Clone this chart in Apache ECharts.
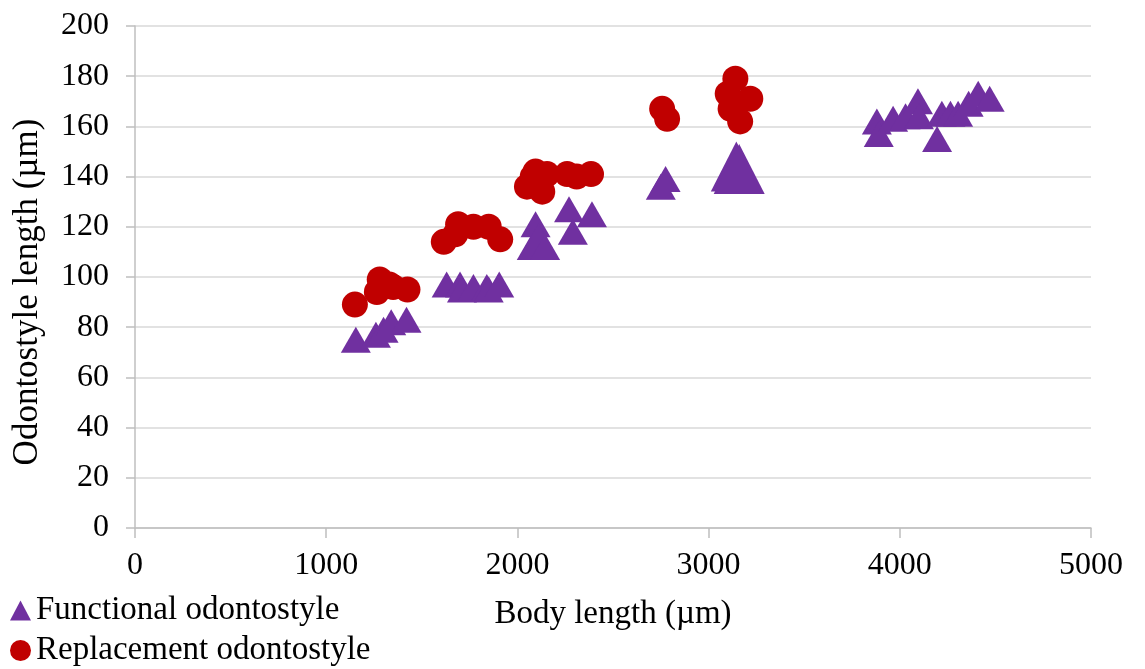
<!DOCTYPE html>
<html>
<head>
<meta charset="utf-8">
<script src="https://cdn.jsdelivr.net/npm/echarts@6/dist/echarts.min.js"></script>
<style>
html,body{margin:0;padding:0;background:#fff;}
#chart{width:1145px;height:669px;}
</style>
</head>
<body>
<div id="chart"></div>
<script>
// Data (body length µm, odontostyle length µm)
const functionalName = 'Functional odontostyle';
const replacementName = 'Replacement odontostyle';
const functional = [
  [1155,75],[1260,77],[1300,79],[1340,82],[1420,83],
  [1630,97],[1700,97],[1710,95],[1770,96],[1840,96],[1850,95],[1905,97],
  [2075,112],[2095,121],[2110,116],[2145,112],[2270,127],[2290,118],[2390,125],
  [2750,136],[2775,139],
  [3145,144],[3160,143],
  [3880,162],[3890,157],[3965,163],[4030,164],[4095,170],[4100,164],[4195,155],
  [4220,165],[4265,165],[4305,165],[4360,169],[4410,173],[4470,171]
];
const replacement = [
  [1150,89],[1265,94],[1280,99],[1330,97],[1350,96],[1425,95],
  [1615,114],[1675,117],[1690,121],[1770,120],[1850,120],[1910,115],
  [2050,136],[2080,140],[2095,142],[2130,134],[2155,141],[2260,141],[2310,140],[2385,141],
  [2757,167],[2783,163],
  [3100,173],[3115,167],[3140,179],[3165,162],[3218,171]
];
const xTicks = {min:0, max:5000, interval:1000};
const yTicks = {min:0, max:200, interval:20};
const xTitle = 'Body length (µm)';
const yTitle = 'Odontostyle length (µm)';

// indices of overlapping points drawn with a larger marker (style only)
const bigFunctional = [21, 22];

const FONT = '"Liberation Serif", "Times New Roman", serif';
const TXT = {fontFamily:FONT, fontSize:33, color:'#000'};
const chart = echarts.init(document.getElementById('chart'));
chart.setOption({
  animation:false,
  backgroundColor:'#fff',
  grid:{left:135, right:54, top:26, bottom:141, containLabel:false},
  legend:[
    {
      orient:'vertical', left:10, top:594, itemWidth:21, itemHeight:20, itemGap:0, padding:0,
      textStyle:TXT, selectedMode:false,
      data:[{name:functionalName, icon:'triangle'}]
    },
    {
      orient:'vertical', left:10, top:634, itemWidth:21, itemHeight:21, itemGap:0, padding:0,
      textStyle:TXT, selectedMode:false,
      data:[{name:replacementName, icon:'circle'}]
    }
  ],
  xAxis:{
    type:'value', min:xTicks.min, max:xTicks.max, interval:xTicks.interval,
    name:xTitle, nameLocation:'middle', nameGap:70,
    nameTextStyle:TXT,
    axisLine:{show:true, lineStyle:{color:'#bfbfbf', width:1.5}},
    axisTick:{show:true, length:10, lineStyle:{color:'#bfbfbf', width:1.5}},
    axisLabel:{fontFamily:FONT, fontSize:32, color:'#000', margin:22, formatter:function(v){return String(v);}},
    splitLine:{show:false}
  },
  yAxis:{
    type:'value', min:yTicks.min, max:yTicks.max, interval:yTicks.interval,
    name:yTitle, nameLocation:'middle', nameGap:90,
    nameTextStyle:{fontFamily:FONT, fontSize:35, color:'#000', padding:[0,30,0,0]},
    axisLine:{show:true, lineStyle:{color:'#bfbfbf', width:1.5}},
    axisTick:{show:true, length:9, lineStyle:{color:'#bfbfbf', width:1.5}},
    axisLabel:{fontFamily:FONT, fontSize:32, color:'#000', margin:26, formatter:function(v){return String(v);}},
    splitLine:{show:true, lineStyle:{color:'#d9d9d9', width:1.5}}
  },
  series:[
    {
      name:replacementName, type:'scatter', data:replacement, z:2,
      symbol:'circle', symbolSize:26,
      itemStyle:{color:'#c00000', opacity:1}
    },
    {
      name:functionalName, type:'scatter', data:functional, z:3,
      symbol:'triangle',
      symbolSize:function(v, p){ return bigFunctional.indexOf(p.dataIndex) >= 0 ? [51,50] : [30,26]; },
      itemStyle:{color:'#7030a0', opacity:1}
    }
  ]
});
</script>
</body>
</html>
